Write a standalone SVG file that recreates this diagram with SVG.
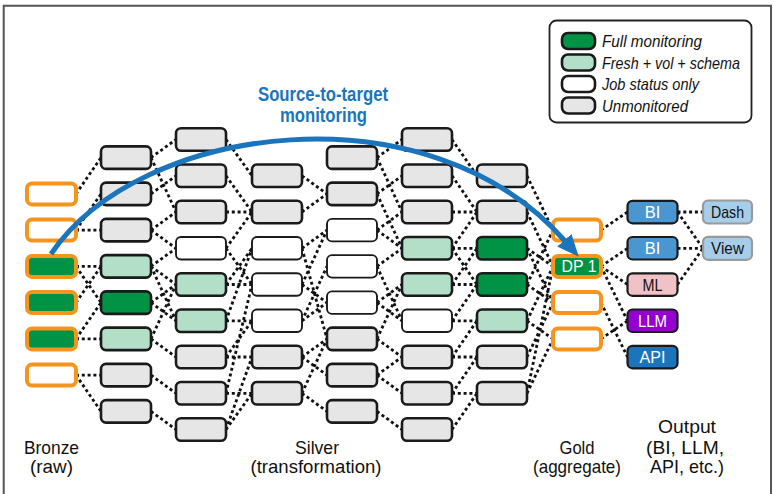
<svg xmlns="http://www.w3.org/2000/svg" width="774" height="494" viewBox="0 0 774 494">
  <defs>
    <style>
      text { font-family: "Liberation Sans Narrow", "Liberation Sans", Arial, sans-serif; fill: #111; }
      .n { stroke: #1a1a1a; stroke-width: 2.6; }
      .gray { fill: #e6e6e6; }
      .lg { fill: #b3dec8; }
      .dg { fill: #009245; }
      .wh { fill: #ffffff; stroke-width: 1.9; }
      .src { stroke: #f7941d; stroke-width: 4; }
      .out { stroke: #1a1a1a; stroke-width: 2.2; }
      .vw { fill: #a6cde9; stroke: #9a9a9a; stroke-width: 2.2; }
      .lbl { font-size: 16.5px; text-anchor: middle; }
      .wt { fill: #ffffff; }
      .leg { font-size: 17px; font-style: italic; }
      .tier { font-size: 18.5px; text-anchor: middle; }
      #connectors path { fill: none; stroke: #111; stroke-width: 2.8; stroke-dasharray: 3 2.8; }
    </style>
    <marker id="ah" markerUnits="userSpaceOnUse" markerWidth="22" markerHeight="19" viewBox="0 0 22 19" refX="1" refY="9.5" orient="auto">
      <path d="M0,0 L22,9.5 L0,19 z" fill="#1b75bc"/>
    </marker>
  </defs>

  <rect x="0" y="0" width="774" height="494" fill="#ffffff"/>
  <!-- page frame -->
  <path d="M3.7,494 V5.7 H771 V494" fill="none" stroke="#555" stroke-width="2"/>

  <!-- dotted lineage links -->
  <g id="connectors">
    <path d="M76 193.9L101 157.6 M76 230.1L101 193.9 M76 230.1L101 230.1 M76 266.4L101 266.4 M76 266.4L101 302.6 M76 302.6L101 266.4 M76 338.9L101 302.6 M76 338.9L101 338.9 M76 375.1L101 375.1 M76 375.1L101 411.4"/>
    <path d="M151 157.6L176 139.5 M151 157.6L176 212 M151 193.9L176 175.8 M151 230.1L176 212 M151 230.1L176 248.3 M151 266.4L176 248.3 M151 266.4L176 284.5 M151 266.4L176 320.8 M151 302.6L176 284.5 M151 302.6L176 320.8 M151 338.9L176 284.5 M151 338.9L176 357 M151 375.1L176 393.3 M151 411.4L176 429.5"/>
    <path d="M226 139.5L252 175.8 M226 175.8L252 212 M226 212L252 212 M226 248.3L252 212 M226 248.3L252 284.5 M226 284.5L252 284.5 M226 284.5L252 248.3 M226 320.8L252 320.8 M226 320.8L252 248.3 M226 357L252 320.8 M226 357L252 357 M226 393.3L252 393.3 M226 393.3L252 284.5 M226 429.5L252 393.3 M226 429.5L252 357"/>
    <path d="M302 175.8L327 193.9 M302 212L327 193.9 M302 248.3L327 230.1 M302 248.3L327 338.9 M302 284.5L327 230.1 M302 284.5L327 302.6 M302 320.8L327 302.6 M302 320.8L327 266.4 M302 357L327 338.9 M302 357L327 375.1 M302 393.3L327 411.4 M302 393.3L327 338.9"/>
    <path d="M377 157.6L402 139.5 M377 157.6L402 212 M377 193.9L402 175.8 M377 193.9L402 248.3 M377 230.1L402 212 M377 230.1L402 248.3 M377 266.4L402 248.3 M377 266.4L402 320.8 M377 302.6L402 284.5 M377 302.6L402 320.8 M377 338.9L402 284.5 M377 338.9L402 357 M377 375.1L402 393.3 M377 375.1L402 357 M377 411.4L402 429.5"/>
    <path d="M452 139.5L477 175.8 M452 175.8L477 212 M452 212L477 212 M452 248.3L477 248.3 M452 248.3L477 212 M452 248.3L477 284.5 M452 284.5L477 284.5 M452 284.5L477 248.3 M452 320.8L477 320.8 M452 320.8L477 284.5 M452 357L477 320.8 M452 357L477 357 M452 393.3L477 393.3 M452 393.3L477 357 M452 429.5L477 393.3"/>
    <path d="M527 175.8L553 230.1 M527 212L553 266.4 M527 248.3L553 266.4 M527 248.3L553 302.6 M527 284.5L553 302.6 M527 284.5L553 230.1 M527 320.8L553 338.9 M527 320.8L553 266.4 M527 357L553 302.6 M527 393.3L553 338.9 M527 393.3L553 266.4"/>
    <path d="M601 230.1L627.5 212 M601 266.4L627.5 248.3 M601 266.4L627.5 284.5 M601 266.4L627.5 320.8 M601 302.6L627.5 357 M601 338.9L627.5 320.8"/>
    <path d="M677.5 212L703 212 M677.5 212L703 248.3 M677.5 248.3L703 248.3 M677.5 284.5L703 248.3"/>
  </g>

  <!-- Bronze sources -->
  <g id="bronze-1"><rect class="src" x="27" y="183.4" width="49" height="21" rx="5" fill="#fff"/></g>
  <g id="bronze-2"><rect class="src" x="27" y="219.6" width="49" height="21" rx="5" fill="#fff"/></g>
  <g id="bronze-3"><rect class="src dg" x="27" y="255.9" width="49" height="21" rx="5"/></g>
  <g id="bronze-4"><rect class="src dg" x="27" y="292.1" width="49" height="21" rx="5"/></g>
  <g id="bronze-5"><rect class="src dg" x="27" y="328.4" width="49" height="21" rx="5"/></g>
  <g id="bronze-6"><rect class="src" x="27" y="364.6" width="49" height="21" rx="5" fill="#fff"/></g>

  <!-- Silver column 1 -->
  <g id="s1-1"><rect class="n gray" x="101" y="146.4" width="50" height="22.5" rx="5"/></g>
  <g id="s1-2"><rect class="n gray" x="101" y="182.6" width="50" height="22.5" rx="5"/></g>
  <g id="s1-3"><rect class="n gray" x="101" y="218.9" width="50" height="22.5" rx="5"/></g>
  <g id="s1-4"><rect class="n lg" x="101" y="255.1" width="50" height="22.5" rx="5"/></g>
  <g id="s1-5"><rect class="n dg" x="101" y="291.4" width="50" height="22.5" rx="5"/></g>
  <g id="s1-6"><rect class="n lg" x="101" y="327.6" width="50" height="22.5" rx="5"/></g>
  <g id="s1-7"><rect class="n gray" x="101" y="363.9" width="50" height="22.5" rx="5"/></g>
  <g id="s1-8"><rect class="n gray" x="101" y="400.1" width="50" height="22.5" rx="5"/></g>

  <!-- Silver column 2 -->
  <g id="s2-1"><rect class="n gray" x="176" y="128.3" width="50" height="22.5" rx="5"/></g>
  <g id="s2-2"><rect class="n gray" x="176" y="164.5" width="50" height="22.5" rx="5"/></g>
  <g id="s2-3"><rect class="n gray" x="176" y="200.8" width="50" height="22.5" rx="5"/></g>
  <g id="s2-4"><rect class="n wh" x="176" y="237" width="50" height="22.5" rx="5"/></g>
  <g id="s2-5"><rect class="n lg" x="176" y="273.3" width="50" height="22.5" rx="5"/></g>
  <g id="s2-6"><rect class="n lg" x="176" y="309.5" width="50" height="22.5" rx="5"/></g>
  <g id="s2-7"><rect class="n gray" x="176" y="345.8" width="50" height="22.5" rx="5"/></g>
  <g id="s2-8"><rect class="n gray" x="176" y="382" width="50" height="22.5" rx="5"/></g>
  <g id="s2-9"><rect class="n gray" x="176" y="418.3" width="50" height="22.5" rx="5"/></g>

  <!-- Silver column 3 -->
  <g id="s3-1"><rect class="n gray" x="252" y="164.5" width="50" height="22.5" rx="5"/></g>
  <g id="s3-2"><rect class="n gray" x="252" y="200.8" width="50" height="22.5" rx="5"/></g>
  <g id="s3-3"><rect class="n wh" x="252" y="237" width="50" height="22.5" rx="5"/></g>
  <g id="s3-4"><rect class="n wh" x="252" y="273.3" width="50" height="22.5" rx="5"/></g>
  <g id="s3-5"><rect class="n wh" x="252" y="309.5" width="50" height="22.5" rx="5"/></g>
  <g id="s3-6"><rect class="n gray" x="252" y="345.8" width="50" height="22.5" rx="5"/></g>
  <g id="s3-7"><rect class="n gray" x="252" y="382" width="50" height="22.5" rx="5"/></g>

  <!-- Silver column 4 -->
  <g id="s4-1"><rect class="n gray" x="327" y="146.4" width="50" height="22.5" rx="5"/></g>
  <g id="s4-2"><rect class="n gray" x="327" y="182.6" width="50" height="22.5" rx="5"/></g>
  <g id="s4-3"><rect class="n wh" x="327" y="218.9" width="50" height="22.5" rx="5"/></g>
  <g id="s4-4"><rect class="n wh" x="327" y="255.1" width="50" height="22.5" rx="5"/></g>
  <g id="s4-5"><rect class="n wh" x="327" y="291.4" width="50" height="22.5" rx="5"/></g>
  <g id="s4-6"><rect class="n gray" x="327" y="327.6" width="50" height="22.5" rx="5"/></g>
  <g id="s4-7"><rect class="n gray" x="327" y="363.9" width="50" height="22.5" rx="5"/></g>
  <g id="s4-8"><rect class="n gray" x="327" y="400.1" width="50" height="22.5" rx="5"/></g>

  <!-- Silver column 5 -->
  <g id="s5-1"><rect class="n gray" x="402" y="128.3" width="50" height="22.5" rx="5"/></g>
  <g id="s5-2"><rect class="n gray" x="402" y="164.5" width="50" height="22.5" rx="5"/></g>
  <g id="s5-3"><rect class="n gray" x="402" y="200.8" width="50" height="22.5" rx="5"/></g>
  <g id="s5-4"><rect class="n lg" x="402" y="237" width="50" height="22.5" rx="5"/></g>
  <g id="s5-5"><rect class="n lg" x="402" y="273.3" width="50" height="22.5" rx="5"/></g>
  <g id="s5-6"><rect class="n wh" x="402" y="309.5" width="50" height="22.5" rx="5"/></g>
  <g id="s5-7"><rect class="n gray" x="402" y="345.8" width="50" height="22.5" rx="5"/></g>
  <g id="s5-8"><rect class="n gray" x="402" y="382" width="50" height="22.5" rx="5"/></g>
  <g id="s5-9"><rect class="n gray" x="402" y="418.3" width="50" height="22.5" rx="5"/></g>

  <!-- Silver column 6 -->
  <g id="s6-1"><rect class="n gray" x="477" y="164.5" width="50" height="22.5" rx="5"/></g>
  <g id="s6-2"><rect class="n gray" x="477" y="200.8" width="50" height="22.5" rx="5"/></g>
  <g id="s6-3"><rect class="n dg" x="477" y="237" width="50" height="22.5" rx="5"/></g>
  <g id="s6-4"><rect class="n dg" x="477" y="273.3" width="50" height="22.5" rx="5"/></g>
  <g id="s6-5"><rect class="n lg" x="477" y="309.5" width="50" height="22.5" rx="5"/></g>
  <g id="s6-6"><rect class="n gray" x="477" y="345.8" width="50" height="22.5" rx="5"/></g>
  <g id="s6-7"><rect class="n gray" x="477" y="382" width="50" height="22.5" rx="5"/></g>

  <!-- Gold data products -->
  <g id="gold-1"><rect class="src" x="553" y="219.6" width="48" height="21" rx="5" fill="#fff"/></g>
  <g id="gold-dp1"><rect class="src dg" x="553" y="255.9" width="48" height="21" rx="5"/>
    <text class="lbl wt" x="579" y="272.3" textLength="35" lengthAdjust="spacingAndGlyphs">DP 1</text></g>
  <g id="gold-3"><rect class="src" x="553" y="292.1" width="48" height="21" rx="5" fill="#fff"/></g>
  <g id="gold-4"><rect class="src" x="553" y="328.4" width="48" height="21" rx="5" fill="#fff"/></g>

  <!-- Outputs -->
  <g id="out-bi-1"><rect class="out" x="627.5" y="200.8" width="50" height="22.5" rx="5" fill="#4a96d0"/>
    <text class="lbl wt" x="652.5" y="218">BI</text></g>
  <g id="out-bi-2"><rect class="out" x="627.5" y="237" width="50" height="22.5" rx="5" fill="#4a96d0"/>
    <text class="lbl wt" x="652.5" y="254.2">BI</text></g>
  <g id="out-ml"><rect class="out" x="627.5" y="273.3" width="50" height="22.5" rx="5" fill="#f0c2c5"/>
    <text class="lbl" x="652.5" y="290.5" textLength="20" lengthAdjust="spacingAndGlyphs">ML</text></g>
  <g id="out-llm"><rect class="out" x="627.5" y="309.5" width="50" height="22.5" rx="5" fill="#9300d0"/>
    <text class="lbl wt" x="652.5" y="326.7" textLength="29" lengthAdjust="spacingAndGlyphs">LLM</text></g>
  <g id="out-api"><rect class="out" x="627.5" y="345.8" width="50" height="22.5" rx="5" fill="#1c75bc"/>
    <text class="lbl wt" x="652.5" y="363" textLength="26" lengthAdjust="spacingAndGlyphs">API</text></g>

  <g id="view-dash"><rect class="vw" x="703" y="200.5" width="49" height="23" rx="5"/>
    <text class="lbl" x="727.5" y="218" textLength="33" lengthAdjust="spacingAndGlyphs">Dash</text></g>
  <g id="view-view"><rect class="vw" x="703" y="236.8" width="49" height="23" rx="5"/>
    <text class="lbl" x="727.5" y="254.2" textLength="33" lengthAdjust="spacingAndGlyphs">View</text></g>

  <!-- source-to-target arc -->
  <g id="s2t-arrow">
    <path d="M51,254 C140,122 430,86 565,241" fill="none" stroke="#1b75bc" stroke-width="5" marker-end="url(#ah)"/>
    <text x="323" y="101" font-size="20" font-weight="bold" text-anchor="middle" style="fill:#1b75bc" textLength="130" lengthAdjust="spacingAndGlyphs">Source-to-target</text>
    <text x="323.5" y="122" font-size="20" font-weight="bold" text-anchor="middle" style="fill:#1b75bc" textLength="87" lengthAdjust="spacingAndGlyphs">monitoring</text>
  </g>

  <!-- legend -->
  <g id="legend">
    <rect x="549.5" y="20.5" width="202" height="102" rx="7" fill="#fff" stroke="#222" stroke-width="1.8"/>
    <rect class="n dg" x="562" y="33" width="33" height="16" rx="6"/>
    <rect class="n lg" x="562" y="54.5" width="33" height="16" rx="6"/>
    <rect class="n" x="562" y="76" width="33" height="16" rx="6" fill="#fff" stroke-width="2"/>
    <rect class="n gray" x="562" y="97.5" width="33" height="16" rx="6"/>
    <text class="leg" x="602" y="47" textLength="100" lengthAdjust="spacingAndGlyphs">Full monitoring</text>
    <text class="leg" x="602" y="68.5" textLength="138" lengthAdjust="spacingAndGlyphs">Fresh + vol + schema</text>
    <text class="leg" x="602" y="90" textLength="97" lengthAdjust="spacingAndGlyphs">Job status only</text>
    <text class="leg" x="602" y="111.5" textLength="86" lengthAdjust="spacingAndGlyphs">Unmonitored</text>
  </g>

  <!-- tier captions -->
  <g id="captions">
    <text class="tier" x="51.5" y="454" textLength="55" lengthAdjust="spacingAndGlyphs">Bronze</text>
    <text class="tier" x="51.5" y="473" textLength="43" lengthAdjust="spacingAndGlyphs">(raw)</text>
    <text class="tier" x="317" y="454" textLength="44" lengthAdjust="spacingAndGlyphs">Silver</text>
    <text class="tier" x="316" y="473" textLength="131" lengthAdjust="spacingAndGlyphs">(transformation)</text>
    <text class="tier" x="577" y="454" textLength="35" lengthAdjust="spacingAndGlyphs">Gold</text>
    <text class="tier" x="577" y="473" textLength="88" lengthAdjust="spacingAndGlyphs">(aggregate)</text>
    <text class="tier" x="687" y="433" textLength="58" lengthAdjust="spacingAndGlyphs">Output</text>
    <text class="tier" x="685" y="454" textLength="78" lengthAdjust="spacingAndGlyphs">(BI, LLM,</text>
    <text class="tier" x="687" y="473" textLength="74" lengthAdjust="spacingAndGlyphs">API, etc.)</text>
  </g>
</svg>
